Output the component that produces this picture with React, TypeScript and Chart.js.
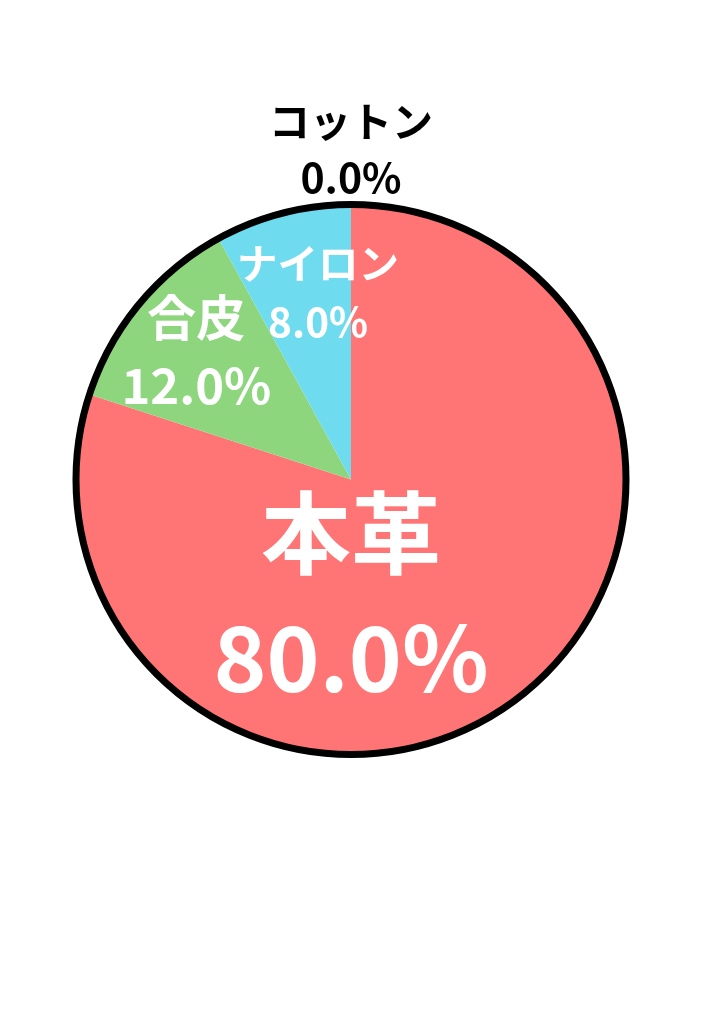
import { useEffect, useRef } from 'react';
import { Chart, registerables } from 'chart.js';

Chart.register(...registerables);

// 素材の割合
const LABELS = ['本革', '合皮', 'ナイロン', 'コットン'];
const VALUES = [80, 12, 8, 0];
const COLORS = ['#FF7575', '#8DD67E', '#6FDBEF', '#F5B041'];

// ラベルの見た目 (サイズ、半径比、角度(上から時計回り)、色、行間)
const LABEL_STYLE = [
  { size: 90, r: 0.42, angle: 180, color: '#ffffff', gap: 125 },
  { size: 49, r: 0.73, angle: null, color: '#ffffff', gap: 68 },
  { size: 40.5, r: 0.69, angle: 350, color: '#ffffff', gap: 58 },
  { size: 41, r: 1.2, angle: 0, color: '#000000', gap: 56 },
];

const FONT = '"Noto Sans CJK JP", "Noto Sans", sans-serif';

// 外周の黒い枠
const ringPlugin = {
  id: 'ring',
  afterDatasetsDraw(chart: Chart) {
    const arc: any = chart.getDatasetMeta(0).data[0];
    if (!arc) return;
    const ctx = chart.ctx;
    ctx.save();
    ctx.beginPath();
    ctx.arc(arc.x, arc.y, arc.outerRadius, 0, Math.PI * 2);
    ctx.lineWidth = 7;
    ctx.strokeStyle = '#000000';
    ctx.stroke();
    ctx.restore();
  },
};

// スライスのラベル
const labelPlugin = {
  id: 'sliceLabels',
  afterDraw(chart: Chart) {
    const meta = chart.getDatasetMeta(0);
    const data = chart.data.datasets[0].data as number[];
    const total = data.reduce((a, b) => a + b, 0);
    const ctx = chart.ctx;
    ctx.save();
    ctx.textAlign = 'center';
    ctx.textBaseline = 'middle';
    meta.data.forEach((el: any, i: number) => {
      const st = LABEL_STYLE[i];
      const a = st.angle === null
        ? (el.startAngle + el.endAngle) / 2
        : (st.angle - 90) * Math.PI / 180;
      const cx = el.x + Math.cos(a) * el.outerRadius * st.r;
      const cy = el.y + Math.sin(a) * el.outerRadius * st.r;
      const pct = ((data[i] / total) * 100).toFixed(1) + '%';
      ctx.fillStyle = st.color;
      ctx.font = `bold ${st.size}px ${FONT}`;
      ctx.fillText(chart.data.labels![i] as string, cx, cy - st.gap / 2);
      ctx.fillText(pct, cx, cy + st.gap / 2);
    });
    ctx.restore();
  },
};

export default function App() {
  const canvasRef = useRef<HTMLCanvasElement>(null);

  useEffect(() => {
    if (!canvasRef.current) return;
    const chart = new Chart(canvasRef.current, {
      type: 'pie',
      data: {
        labels: LABELS,
        datasets: [{
          data: VALUES,
          backgroundColor: COLORS,
          borderWidth: 0,
        }],
      },
      options: {
        responsive: false,
        animation: false,
        radius: 275,
        layout: { padding: { left: 0, right: 22, top: 0, bottom: 65 } },
        plugins: {
          legend: { display: false },
          tooltip: { enabled: false },
        },
      },
      plugins: [ringPlugin, labelPlugin],
    });
    return () => chart.destroy();
  }, []);

  return (
    <div style={{ position: 'absolute', left: 0, top: 0, width: 724, height: 1024, background: '#ffffff' }}>
      <canvas ref={canvasRef} width={724} height={1024} style={{ width: 724, height: 1024 }} />
    </div>
  );
}
